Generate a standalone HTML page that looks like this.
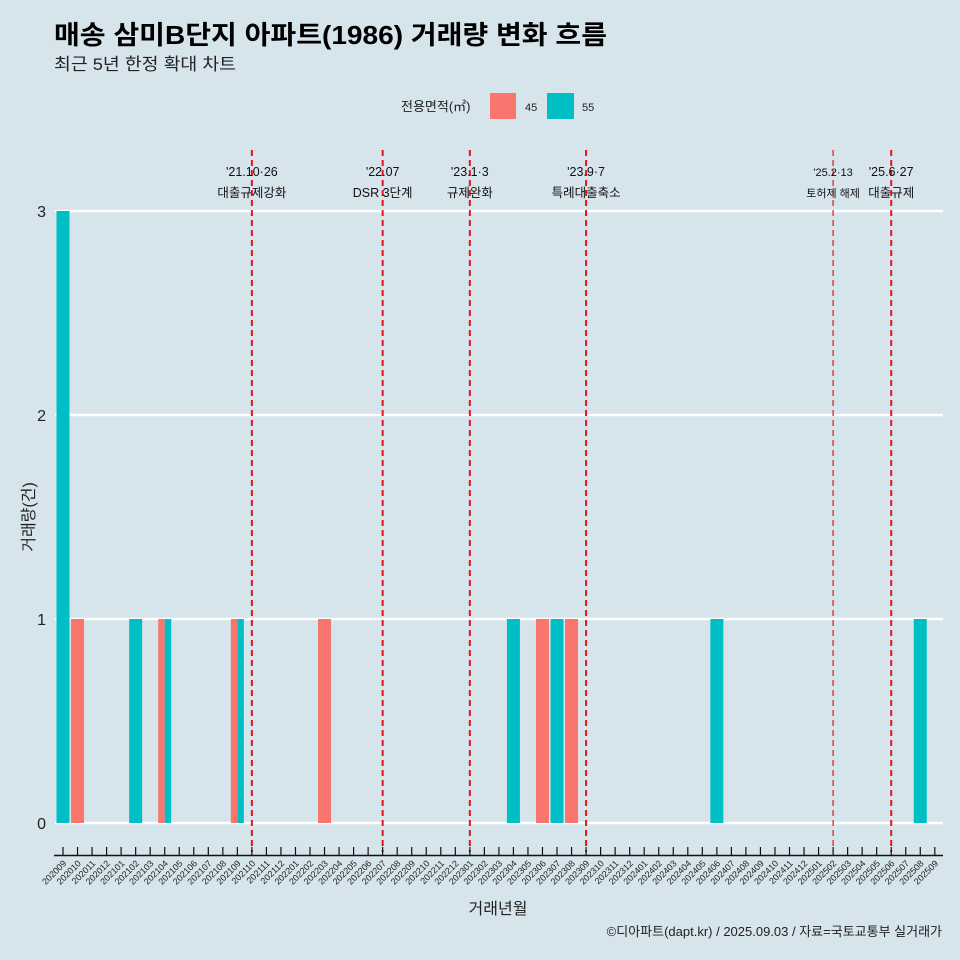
<!DOCTYPE html>
<html><head><meta charset="utf-8"><style>
body{margin:0;background:#d6e4eb;}
svg{display:block;font-family:"Liberation Sans","Noto Sans CJK KR",sans-serif;}
</style></head><body>
<svg id="c" width="960" height="960">
<rect width="960" height="960" fill="#d6e4eb"/>
<text x="54" y="44" font-size="26" font-weight="bold" fill="#000" textLength="553" lengthAdjust="spacingAndGlyphs">매송 삼미B단지 아파트(1986) 거래량 변화 흐름</text>
<text x="54" y="70" font-size="17" fill="#222" textLength="182" lengthAdjust="spacingAndGlyphs">최근 5년 한정 확대 차트</text>
<g>
<text x="401" y="111" font-size="13" fill="#222">전용면적(㎡)</text>
<rect x="490" y="93" width="26" height="26" fill="#f8766d"/>
<text x="525" y="111" font-size="11" fill="#222">45</text>
<rect x="547" y="93" width="27" height="26" fill="#00bfc4"/>
<text x="582" y="111" font-size="11" fill="#222">55</text>
</g>
<g id="grid"></g><g id="bars"></g><g id="ev"></g><g id="xax"></g>
<text transform="translate(34,517) rotate(-90)" text-anchor="middle" font-size="16" fill="#222">거래량(건)</text>
<text x="498" y="914" text-anchor="middle" font-size="16" fill="#222">거래년월</text>
<text x="942" y="936" text-anchor="end" font-size="13" fill="#222">©디아파트(dapt.kr) / 2025.09.03 / 자료=국토교통부 실거래가</text>
</svg>
<script>
const months=[];
for(let y=2020,m=9;y*100+m<=202509;){months.push(String(y*100+m));m++;if(m>12){m=1;y++;}}
const s45Months=["202010","202104","202109","202203","202306","202308"];
const s45Values=[1,1,1,1,1,1];
const s55Months=["202009","202102","202104","202109","202304","202307","202406","202508"];
const s55Values=[3,1,1,1,1,1,1,1];
const yTicks=[0,1,2,3];
const events=[["202110","'21.10·26","대출규제강화"],["202207","'22.07","DSR 3단계"],["202301","'23.1·3","규제완화"],["202309","'23.9·7","특례대출축소"],["202502","'25.2·13","토허제 해제"],["202506","'25.6·27","대출규제"]];
const NS="http://www.w3.org/2000/svg";
function mk(t,a,p){const e=document.createElementNS(NS,t);for(const k in a)e.setAttribute(k,a[k]);p.appendChild(e);return e;}
const step=14.53;
const xs=m=>63+months.indexOf(m)*step;
const ys=v=>823-v*204;
const G=document.getElementById('grid');
yTicks.forEach(v=>{
 const l=mk('line',{x1:55,x2:943,y1:ys(v),y2:ys(v),stroke:'#fff','stroke-width':2.5},G);
 
 
 const t=mk('text',{x:46,y:ys(v)+6,'text-anchor':'end','font-size':16,fill:'#222'},G);t.textContent=v;
 
 
});
const B=document.getElementById('bars');
const bw=13;
function drawBar(m,v,col,off,w,name){
 const r=mk('rect',{x:xs(m)-bw/2+off,y:ys(v),width:w,height:ys(0)-ys(v),fill:col},B);
 
 
}
s45Months.forEach((m,i)=>{const both=s55Months.includes(m);drawBar(m,s45Values[i],'#f8766d',0,both?bw/2:bw,'bar-45-'+m);});
s55Months.forEach((m,i)=>{const both=s45Months.includes(m);drawBar(m,s55Values[i],'#00bfc4',both?bw/2:0,both?bw/2:bw,'bar-55-'+m);});
const E=document.getElementById('ev');
events.forEach(e=>{
 const x=xs(e[0]);const thin=e[0]==="202502";
 const l=mk('line',{x1:x,x2:x,y1:150,y2:852,stroke:'#e8141c','stroke-width':thin?1.2:2,'stroke-dasharray':'6,4'},E);
 
 
 const fs=thin?11:12.5;
 const t1=mk('text',{x:x,y:176,'text-anchor':'middle','font-size':fs,fill:'#111'},E);t1.textContent=e[1];
 
 
 const t2=mk('text',{x:x,y:197,'text-anchor':'middle','font-size':fs,fill:'#111'},E);t2.textContent=e[2];
 
 
});
const X=document.getElementById('xax');
const al=mk('line',{x1:54,x2:943,y1:855.5,y2:855.5,stroke:'#111','stroke-width':1.5},X);


months.forEach(m=>{
 const x=xs(m);
 const tk=mk('line',{x1:x,x2:x,y1:847,y2:856,stroke:'#111','stroke-width':1.2},X);
 
 
 const t=mk('text',{transform:`translate(${x+4},864) rotate(-45)`,'text-anchor':'end','font-size':9,fill:'#222'},X);t.textContent=m;
 
 
});
</script>
</body></html>
